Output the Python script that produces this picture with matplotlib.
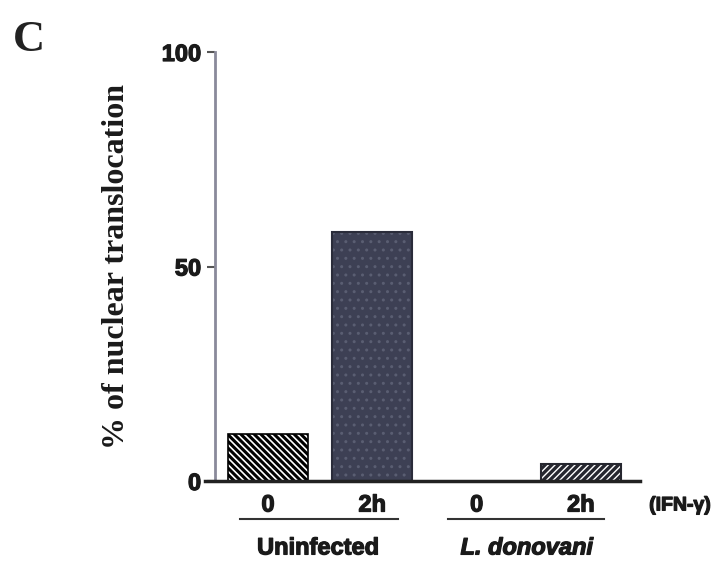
import matplotlib
matplotlib.use("Agg")
import matplotlib.pyplot as plt
import matplotlib.transforms as mtransforms
import matplotlib.patheffects as pe

plt.rcParams['hatch.linewidth'] = 2.2

categories = ["0", "2h", "0", "2h"]
values = [11, 58, 0, 4]
groups = ["Uninfected", "L. donovani"]
yticks = [0, 50, 100]

sans = ['Liberation Sans', 'DejaVu Sans']
serif = ['Liberation Serif', 'DejaVu Serif']
heavy = [pe.withStroke(linewidth=0.9, foreground='#1a1a1a')]

fig = plt.figure(figsize=(7.23, 5.73), dpi=100)
ax = fig.add_axes([205/723, 1-481/573, (640-205)/723, (481-52)/573])

x = list(range(len(values)))
bars = ax.bar(x, values, width=0.77, color='white', edgecolor='black', linewidth=1.2)
# bar 1: black diagonal stripes on white
bars[0].set_hatch('\\\\\\\\\\')
bars[0].set_facecolor('white')
bars[0].set_edgecolor('black')
# bar 2: dark navy-gray with fine dotted texture
bars[1].set_facecolor('#3d4054')
bars[1].set_edgecolor('#5a5e72')
bars[1].set_hatch('..')
# bar 4: dark with white diagonal slits
bars[3].set_facecolor('#26272f')
bars[3].set_edgecolor('white')
bars[3].set_hatch('/////')
if hasattr(bars[3], 'set_hatch_linewidth'):
    bars[3].set_hatch_linewidth(1.0)
    bars[1].set_hatch_linewidth(1.0)
ax.bar([x[3]], [values[3]], width=0.77, facecolor='none', edgecolor='#26272f', linewidth=1.5)
ax.bar([x[1]], [values[1]], width=0.77, facecolor='none', edgecolor='#2a2c3a', linewidth=1.5)

ax.set_xlim(-0.604, 3.566)
ax.set_ylim(0, 100)

for s in ['top', 'right']:
    ax.spines[s].set_visible(False)
ax.spines['left'].set_position(('axes', 10/435))
ax.spines['left'].set_color('#8a8a9a')
ax.spines['left'].set_linewidth(2)
ax.spines['bottom'].set_color('#222222')
ax.spines['bottom'].set_linewidth(2.5)

ax.set_yticks(yticks)
ax.set_yticklabels([str(t) for t in yticks], fontfamily=sans, fontweight='bold', fontsize=17)
ax.tick_params(axis='y', length=6, width=1.5, color='#555555', pad=4)
ax.set_xticks(x)
ax.set_xticklabels(categories, fontfamily=sans, fontweight='bold', fontsize=17)
ax.tick_params(axis='x', length=0, pad=9)
for t in ax.get_xticklabels() + ax.get_yticklabels():
    t.set_path_effects(heavy)
    t.set_color('#1a1a1a')

ax.set_ylabel('% of nuclear translocation', fontfamily=serif, fontweight='bold', fontsize=23,
              labelpad=22, color='#1a1a1a')

trans = mtransforms.blended_transform_factory(ax.transData, ax.transAxes)
ax.plot([-0.27, 1.25], [-0.0886, -0.0886], transform=trans, color='#333333', lw=1.5, clip_on=False)
ax.plot([1.73, 3.22], [-0.0886, -0.0886], transform=trans, color='#333333', lw=1.5, clip_on=False)
ax.text(0.48, -0.156, groups[0], transform=trans, ha='center', va='center',
        fontfamily=sans, fontweight='bold', fontsize=17, color='#1a1a1a', path_effects=heavy)
ax.text(2.48, -0.156, groups[1], transform=trans, ha='center', va='center',
        fontfamily=sans, fontweight='bold', fontstyle='italic', fontsize=17, color='#1a1a1a',
        path_effects=heavy)
ax.text(3.95, -0.058, '(IFN-γ)', transform=trans, ha='center', va='center',
        fontfamily=sans, fontweight='bold', fontsize=14, color='#1a1a1a', path_effects=heavy)

fig.text(13/723, 1-40/573, 'C', fontfamily=serif, fontweight='bold', fontsize=32,
         ha='left', va='center', color='#222222')

fig.savefig('out.png', dpi=100)
